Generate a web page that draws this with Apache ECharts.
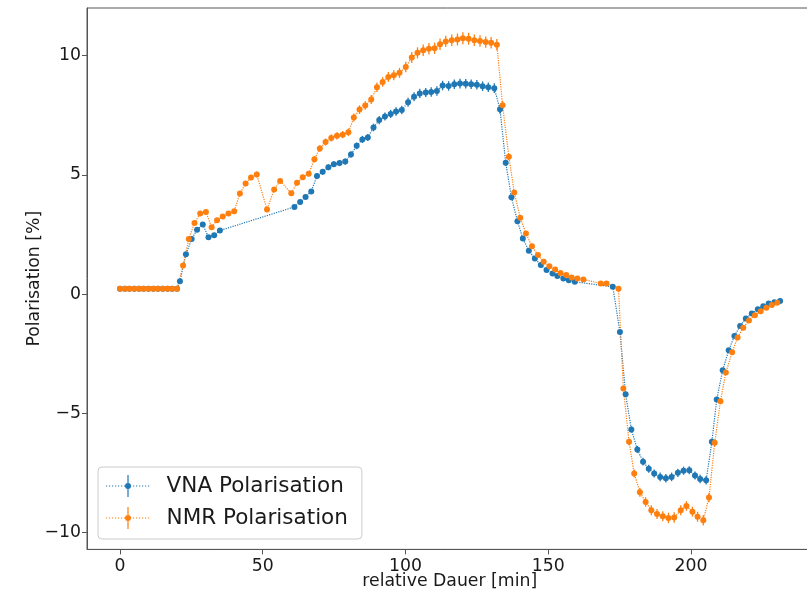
<!DOCTYPE html>
<html>
<head>
<meta charset="utf-8">
<script src="https://cdn.jsdelivr.net/npm/echarts@6/dist/echarts.min.js"></script>
<style>
  html, body { margin: 0; padding: 0; background: #fff; }
  #chart { width: 807px; height: 593px; }
</style>
</head>
<body>
<div id="chart"></div>
<script>
// Polarisation measured by VNA and NMR over the run: [time (min), polarisation (%), error (%)]
const vnaPoints = [
  [0, 0.23, 0.01], [1.7, 0.23, 0.01], [3.3, 0.23, 0.01], [5.0, 0.23, 0.01], [6.7, 0.23, 0.01],
  [8.3, 0.23, 0.01], [10.0, 0.23, 0.01], [11.7, 0.23, 0.01], [13.3, 0.23, 0.01], [15.0, 0.23, 0.01],
  [16.7, 0.23, 0.01], [18.3, 0.23, 0.01], [20.0, 0.23, 0.01],
  [21.0, 0.54, 0.02], [23.1, 1.68, 0.04], [25.1, 2.31, 0.05], [27.0, 2.70, 0.06], [29.0, 2.92, 0.07],
  [31.0, 2.39, 0.05], [33.0, 2.47, 0.06], [35.0, 2.67, 0.06],
  [61.1, 3.66, 0.08], [63.1, 3.87, 0.09], [65.0, 4.08, 0.09], [67.0, 4.31, 0.10], [69.0, 4.96, 0.11],
  [71.0, 5.13, 0.12], [73.0, 5.32, 0.12], [74.9, 5.45, 0.12], [76.9, 5.50, 0.13], [78.9, 5.56, 0.13],
  [80.9, 5.86, 0.13], [82.9, 6.22, 0.14], [84.9, 6.49, 0.15], [86.8, 6.57, 0.15], [88.8, 6.99, 0.16],
  [90.8, 7.30, 0.17], [92.8, 7.45, 0.17], [94.8, 7.56, 0.17], [96.7, 7.66, 0.18], [98.7, 7.72, 0.18],
  [100.9, 8.05, 0.19], [103.0, 8.28, 0.19], [105.0, 8.42, 0.19], [107.1, 8.46, 0.19], [109.0, 8.48, 0.20],
  [111.0, 8.52, 0.20], [113.0, 8.75, 0.20], [115.1, 8.73, 0.20], [117.1, 8.80, 0.20], [119.1, 8.83, 0.20],
  [121.1, 8.82, 0.20], [123.0, 8.80, 0.20], [125.0, 8.78, 0.20], [127.0, 8.72, 0.20], [129.0, 8.68, 0.20],
  [131.1, 8.64, 0.20], [133.1, 7.75, 0.18], [135.1, 5.51, 0.13], [137.1, 4.07, 0.09], [139.2, 3.06, 0.07],
  [141.1, 2.34, 0.05], [143.2, 1.82, 0.04], [145.3, 1.50, 0.03], [147.4, 1.22, 0.03], [149.4, 1.01, 0.02],
  [151.5, 0.87, 0.02], [153.2, 0.76, 0.02], [155.3, 0.66, 0.02], [157.2, 0.59, 0.01], [159.3, 0.52, 0.01],
  [172.6, 0.31, 0.01], [175.1, -1.58, 0.04], [177.1, -4.19, 0.10], [179.1, -5.67, 0.13], [181.2, -6.51, 0.15],
  [183.2, -7.02, 0.16], [185.2, -7.32, 0.17], [187.1, -7.52, 0.17], [189.2, -7.66, 0.18], [191.2, -7.72, 0.18],
  [193.2, -7.66, 0.18], [195.4, -7.49, 0.17], [197.4, -7.40, 0.17], [199.4, -7.38, 0.17], [201.4, -7.60, 0.17],
  [203.2, -7.75, 0.18], [205.3, -7.80, 0.18], [207.3, -6.19, 0.14], [209.0, -4.42, 0.10], [211.1, -3.19, 0.07],
  [213.2, -2.35, 0.05], [215.2, -1.75, 0.04], [217.2, -1.33, 0.03], [219.2, -1.02, 0.02], [221.3, -0.81, 0.02],
  [223.4, -0.63, 0.01], [225.3, -0.50, 0.01], [227.2, -0.39, 0.01], [229.2, -0.34, 0.01], [231.2, -0.28, 0.01]
];

const nmrPoints = [
  [0, 0.23, 0.01], [1.7, 0.23, 0.01], [3.3, 0.23, 0.01], [5.0, 0.23, 0.01], [6.7, 0.23, 0.01],
  [8.3, 0.23, 0.01], [10.0, 0.23, 0.01], [11.7, 0.23, 0.01], [13.3, 0.23, 0.01], [15.0, 0.23, 0.01],
  [16.7, 0.23, 0.01], [18.3, 0.23, 0.01], [20.0, 0.23, 0.01],
  [22.1, 1.20, 0.03], [24.1, 2.31, 0.05], [26.1, 2.99, 0.07], [28.1, 3.38, 0.08], [30.1, 3.45, 0.08],
  [32.1, 2.81, 0.06], [34.0, 3.10, 0.07], [36.0, 3.26, 0.07], [38.0, 3.38, 0.08], [40.0, 3.48, 0.08],
  [42.0, 4.22, 0.10], [44.0, 4.64, 0.11], [45.9, 4.89, 0.11], [47.9, 5.02, 0.12], [51.5, 3.55, 0.08],
  [54.0, 4.39, 0.10], [56.1, 4.75, 0.11], [60.0, 4.23, 0.10], [62.0, 4.67, 0.11], [64.0, 4.90, 0.11],
  [66.1, 5.05, 0.12], [68.1, 5.66, 0.13], [70.0, 6.11, 0.14], [72.0, 6.38, 0.15], [74.0, 6.55, 0.15],
  [76.0, 6.64, 0.15], [78.0, 6.69, 0.15], [80.0, 6.79, 0.16], [81.9, 7.41, 0.17], [83.9, 7.74, 0.18],
  [85.9, 7.91, 0.18], [88.0, 8.16, 0.19], [90.0, 8.68, 0.20], [92.0, 8.90, 0.20], [94.0, 9.11, 0.21],
  [95.9, 9.18, 0.21], [97.9, 9.28, 0.21], [100.1, 9.53, 0.22], [102.2, 9.92, 0.23], [104.2, 10.12, 0.23],
  [106.2, 10.23, 0.24], [108.2, 10.29, 0.24], [110.2, 10.31, 0.24], [112.1, 10.48, 0.24], [114.1, 10.60, 0.24],
  [116.2, 10.65, 0.24], [118.2, 10.68, 0.25], [120.1, 10.73, 0.25], [122.1, 10.71, 0.25], [124.1, 10.65, 0.24],
  [126.1, 10.62, 0.24], [128.1, 10.57, 0.24], [130.0, 10.54, 0.24], [132.0, 10.46, 0.24], [134.0, 7.92, 0.18],
  [136.2, 5.76, 0.13], [138.1, 4.26, 0.10], [140.2, 3.21, 0.07], [142.2, 2.54, 0.06], [144.3, 2.01, 0.05],
  [146.4, 1.64, 0.04], [148.4, 1.36, 0.03], [150.4, 1.17, 0.03], [152.4, 1.04, 0.02], [154.3, 0.89, 0.02],
  [156.3, 0.80, 0.02], [158.2, 0.70, 0.02], [160.2, 0.66, 0.02], [162.3, 0.62, 0.01], [168.4, 0.45, 0.01],
  [170.4, 0.45, 0.01], [174.6, 0.23, 0.01], [176.3, -3.95, 0.09], [178.3, -6.19, 0.14], [180.1, -7.52, 0.17],
  [182.1, -8.30, 0.19], [184.1, -8.71, 0.20], [186.1, -9.06, 0.21], [188.1, -9.22, 0.21], [190.1, -9.31, 0.21],
  [192.1, -9.38, 0.22], [194.1, -9.36, 0.22], [196.4, -9.06, 0.21], [198.4, -8.88, 0.20], [200.5, -9.12, 0.21],
  [202.3, -9.33, 0.21], [204.3, -9.48, 0.22], [206.3, -8.52, 0.20], [208.3, -6.23, 0.14], [210.3, -4.49, 0.10],
  [212.2, -3.28, 0.08], [214.4, -2.43, 0.06], [216.3, -1.82, 0.04], [218.3, -1.41, 0.03], [220.3, -1.10, 0.03],
  [222.4, -0.88, 0.02], [224.4, -0.71, 0.02], [226.4, -0.57, 0.01], [228.3, -0.45, 0.01], [230.2, -0.36, 0.01]
];

const seriesNames = ['VNA Polarisation', 'NMR Polarisation'];
const seriesColors = ['#1f77b4', '#ff7f0e'];
const xTicks = [0, 50, 100, 150, 200];
const yTicks = [-10, -5, 0, 5, 10];

const FONT = 'DejaVu Sans';
const minus = v => String(v).replace('-', '\u2212');

// legend handle: dotted line, marker and vertical error bar (44 x 22 box)
let handle = 'path://';
for (let x = 0; x <= 42; x += 3) handle += 'M' + x + ',10.4h1.2v1.2h-1.2z';
handle += 'M21.4,0h1.2v22h-1.2z';
handle += 'M19,11a3,3 0 1,1 6,0a3,3 0 1,1 -6,0z';

function errorBars(points, color) {
  return {
    type: 'custom',
    data: points,
    encode: { x: 0, y: 1 },
    silent: true,
    renderItem: function (params, api) {
      const t = api.value(0), v = api.value(1), e = api.value(2);
      const lo = api.coord([t, v - e]);
      const hi = api.coord([t, v + e]);
      return {
        type: 'line',
        shape: { x1: lo[0], y1: lo[1], x2: hi[0], y2: hi[1] },
        style: { stroke: color, lineWidth: 1.3 }
      };
    }
  };
}

function lineSeries(name, points, color) {
  return {
    name: name,
    type: 'line',
    data: points,
    encode: { x: 0, y: 1 },
    symbol: 'circle',
    symbolSize: 6,
    showAllSymbol: true,
    itemStyle: { color: color, borderWidth: 0 },
    lineStyle: { color: color, width: 1.2, type: 'dotted' },
    emphasis: { disabled: true }
  };
}

const chart = echarts.init(document.getElementById('chart'), null, { renderer: 'canvas' });
chart.setOption({
  animation: false,
  backgroundColor: '#ffffff',
  grid: {
    left: 87, top: 8, width: 725.5, height: 541.4,
    outerBoundsMode: 'none',
    containLabel: false,
    show: true, borderColor: '#555', borderWidth: 1, backgroundColor: 'transparent'
  },
  xAxis: {
    type: 'value',
    min: -11.55, max: 242.55,
    name: 'relative Dauer [min]',
    nameLocation: 'middle',
    nameGap: 24,
    nameMoveOverlap: false,
    nameTextStyle: { fontFamily: FONT, fontSize: 17.3, color: '#1a1a1a' },
    axisLine: { show: true, onZero: false, lineStyle: { color: '#555', width: 1 } },
    axisTick: { show: true, length: 5, customValues: xTicks, lineStyle: { color: '#555' } },
    axisLabel: { customValues: xTicks, margin: 9, fontFamily: FONT, fontSize: 17.3, color: '#1a1a1a', formatter: minus },
    splitLine: { show: false }
  },
  yAxis: {
    type: 'value',
    min: -10.7, max: 12.0,
    name: 'Polarisation [%]',
    nameLocation: 'middle',
    nameGap: 44,
    nameMoveOverlap: false,
    nameRotate: 90,
    nameTextStyle: { fontFamily: FONT, fontSize: 17.3, color: '#1a1a1a' },
    axisLine: { show: true, onZero: false, lineStyle: { color: '#555', width: 1 } },
    axisTick: { show: true, length: 5, customValues: yTicks, lineStyle: { color: '#555' } },
    axisLabel: { customValues: yTicks, margin: 6, fontFamily: FONT, fontSize: 17.3, color: '#1a1a1a', formatter: minus },
    splitLine: { show: false }
  },
  legend: {
    data: seriesNames,
    orient: 'vertical',
    left: 98, top: 467,
    padding: [8, 14, 10, 8],
    itemWidth: 44, itemHeight: 22, itemGap: 10,
    icon: handle,
    itemStyle: { borderWidth: 0 },
    backgroundColor: 'rgba(255,255,255,0.8)',
    borderColor: '#cccccc', borderWidth: 1, borderRadius: 4,
    textStyle: { fontFamily: FONT, fontSize: 21.5, color: '#1a1a1a', padding: [0, 0, 0, 12] },
    selectedMode: false
  },
  series: [
    errorBars(vnaPoints, seriesColors[0]),
    lineSeries(seriesNames[0], vnaPoints, seriesColors[0]),
    errorBars(nmrPoints, seriesColors[1]),
    lineSeries(seriesNames[1], nmrPoints, seriesColors[1])
  ]
});
</script>
</body>
</html>
